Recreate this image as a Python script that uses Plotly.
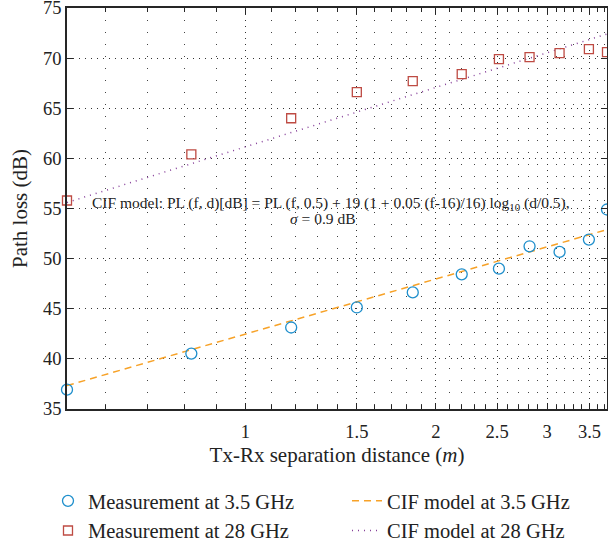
import plotly.graph_objects as go
import math

# ---- data ----
dist = [0.522, 0.821, 1.181, 1.500, 1.839, 2.198, 2.517, 2.814, 3.139, 3.493, 3.731]
pl_35 = [36.93, 40.53, 43.13, 45.13, 46.63, 48.43, 49.0, 51.23, 50.67, 51.9, 54.9]
pl_28 = [55.8, 60.4, 64.0, 66.6, 67.7, 68.4, 69.9, 70.1, 70.5, 70.9, 70.6]
model_d = [0.522, 3.731]
model_35 = [37.33, 52.9]
model_28 = [55.6, 72.4]

x_ticks = [1, 1.5, 2, 2.5, 3, 3.5]
x_ticktext = ["1", "1.5", "2", "2.5", "3", "3.5"]
x_minor = [0.6, 0.7, 0.8, 0.9, 1.1, 1.2, 1.3, 1.4, 1.6, 1.7, 1.8, 1.9,
           2.1, 2.2, 2.3, 2.4, 2.6, 2.7, 2.8, 2.9, 3.1, 3.2, 3.3, 3.4, 3.6, 3.7]
y_ticks = [35, 40, 45, 50, 55, 60, 65, 70, 75]

FONT = "Liberation Serif"
TXT = "#222"
BLUE = "#1F8FCC"
RED = "#BE4B43"
ORANGE = "#F7A228"
PURPLE = "#87409A"

fig = go.Figure()
fig.add_trace(go.Scatter(
    x=model_d, y=model_28, mode="lines", name="CIF model at 28 GHz",
    line=dict(color=PURPLE, width=1.5, dash="1px,5px"),
    legend="legend2", legendgroup="d", legendrank=2))
fig.add_trace(go.Scatter(
    x=model_d, y=model_35, mode="lines", name="CIF model at 3.5 GHz",
    line=dict(color=ORANGE, width=1.5, dash="7px,5px"),
    legend="legend2", legendgroup="c", legendrank=1))
fig.add_trace(go.Scatter(
    x=dist, y=pl_35, mode="markers", name="Measurement at 3.5 GHz",
    marker=dict(symbol="circle-open", size=11, color=BLUE, line=dict(width=1.3)),
    cliponaxis=False, legendgroup="a", legendrank=1))
fig.add_trace(go.Scatter(
    x=dist, y=pl_28, mode="markers", name="Measurement at 28 GHz",
    marker=dict(symbol="square-open", size=9, color=RED, line=dict(width=1.3)),
    cliponaxis=False, legendgroup="b", legendrank=2))

fig.add_annotation(
    xref="paper", yref="paper", x=0.489, y=0.5137, xanchor="center", yanchor="middle",
    showarrow=False,
    text="CIF model: PL (f, d)[dB] = PL (f, 0.5) + 19 (1 + 0.05 (f-16)/16) log<sub>10</sub> (d/0.5),",
    font=dict(family=FONT, size=15.5, color=TXT))
fig.add_annotation(
    xref="paper", yref="paper", x=0.474, y=0.476, xanchor="center", yanchor="middle",
    showarrow=False, text="<i>σ</i> = 0.9 dB",
    font=dict(family=FONT, size=15.5, color=TXT))

axis_common = dict(showline=True, linecolor="#262626", linewidth=1.5, mirror="ticks",
                   ticks="inside", tickcolor="#262626", tickwidth=1.2,
                   tickfont=dict(family=FONT, size=18.5, color=TXT),
                   ticklabeloverflow="allow", zeroline=False)

fig.update_xaxes(
    type="log", range=[math.log10(model_d[0]), math.log10(model_d[1])],
    tickmode="array", tickvals=x_ticks, ticktext=x_ticktext, ticklen=6,
    ticklabelstandoff=5,
    showgrid=True, gridcolor="#333", gridwidth=1, griddash="1px,5px",
    minor=dict(tickmode="array", tickvals=x_minor, ticks="inside", ticklen=4,
               tickcolor="#262626", showgrid=True, gridcolor="#444", gridwidth=1,
               griddash="1px,11px"),
    title=dict(text="Tx-Rx separation distance (<i>m</i>)",
               font=dict(family=FONT, size=21, color=TXT), standoff=6),
    **axis_common)
fig.update_yaxes(
    range=[35, 75], tickmode="array", tickvals=y_ticks, ticklen=6,
    showgrid=True, gridcolor="#333", gridwidth=1, griddash="1px,5px",
    title=dict(text="Path loss (dB)", font=dict(family=FONT, size=21, color=TXT),
               standoff=10),
    **axis_common)

legend_common = dict(orientation="v", xanchor="left", yanchor="top",
                     font=dict(family=FONT, size=20.5, color=TXT),
                     bgcolor="rgba(0,0,0,0)", tracegroupgap=0, itemwidth=30)
fig.update_layout(
    width=608, height=547,
    margin=dict(l=67, r=1, t=8, b=138, autoexpand=False),
    paper_bgcolor="white", plot_bgcolor="white",
    showlegend=True,
    legend=dict(x=-0.0352, y=-0.1796, **legend_common),
    legend2=dict(x=0.5185, y=-0.1796, **legend_common),
)

fig.write_html("out.html")
